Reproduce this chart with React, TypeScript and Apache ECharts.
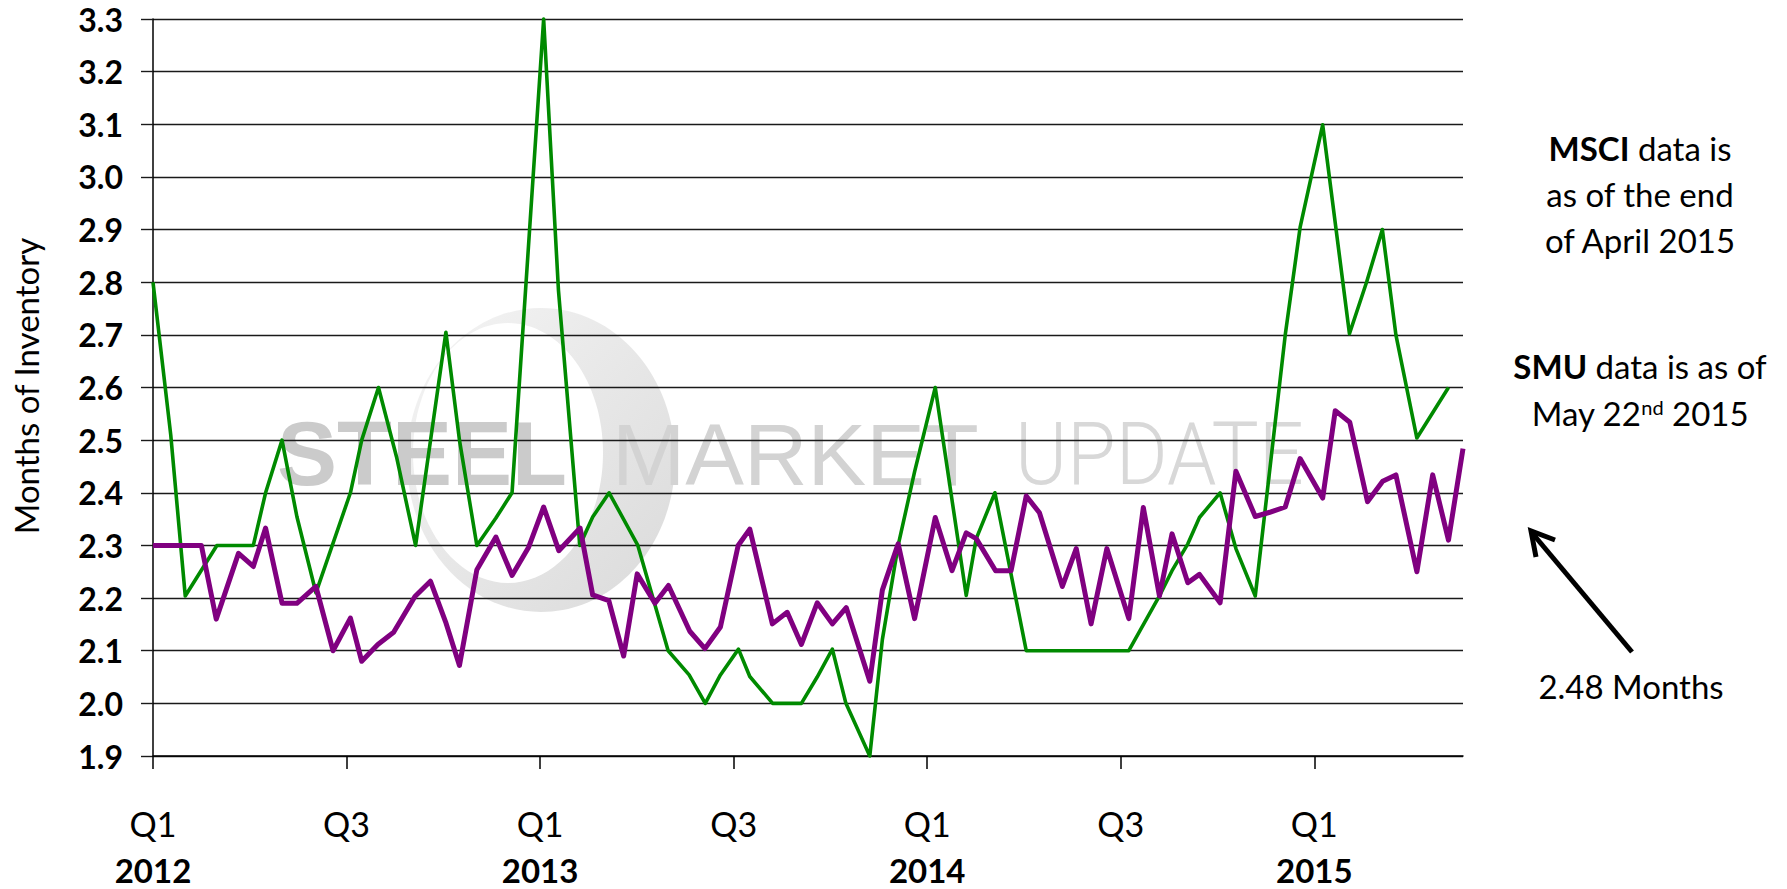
import React, { useEffect, useRef } from 'react';
import * as echarts from 'echarts';

// x position = months since 1 Jan 2012 (date axis), y = months of inventory
const smuMonths = [
  0, 0.5, 1.0, 1.5, 1.96, 2.65, 3.11, 3.49, 4.0, 4.46, 5.05, 5.58, 6.12, 6.47, 6.97, 7.46,
  8.12, 8.6, 9.07, 9.5, 10.04, 10.63, 11.13, 11.64, 12.11, 12.58, 13.24, 13.63, 14.13, 14.59,
  15.01, 15.56, 15.98, 16.64, 17.11, 17.59, 18.14, 18.5, 19.2, 19.66, 20.1, 20.59, 21.06,
  21.49, 22.22, 22.61, 23.1, 23.61, 24.25, 24.77, 25.21, 25.52, 26.12, 26.6, 27.07, 27.48,
  28.19, 28.62, 29.08, 29.57, 30.25, 30.7, 31.2, 31.59, 32.08, 32.44, 33.08, 33.57, 34.17,
  34.62, 35.1, 35.56, 36.26, 36.65, 37.1, 37.65, 38.12, 38.53, 39.18, 39.67, 40.16, 40.61,
];
const smuValues = [
  2.3, 2.3, 2.3, 2.3, 2.16, 2.285, 2.26, 2.333, 2.19, 2.19, 2.222, 2.1, 2.162, 2.08, 2.112, 2.135,
  2.203, 2.232, 2.155, 2.072, 2.254, 2.316, 2.243, 2.296, 2.373, 2.29, 2.333, 2.206, 2.195, 2.09,
  2.246, 2.19, 2.224, 2.137, 2.104, 2.145, 2.3, 2.331, 2.151, 2.173, 2.112, 2.191, 2.151,
  2.182, 2.042, 2.215, 2.303, 2.161, 2.353, 2.252, 2.324, 2.313, 2.252, 2.252, 2.394, 2.362,
  2.222, 2.294, 2.151, 2.294, 2.161, 2.372, 2.204, 2.322, 2.229, 2.245, 2.191, 2.441, 2.355,
  2.363, 2.373, 2.465, 2.39, 2.556, 2.534, 2.383, 2.422, 2.434, 2.25, 2.434, 2.31, 2.484,
];
const msciMonths = [
  0, 0.55, 1.0, 1.98, 3.11, 3.49, 4.0, 4.46, 5.05, 6.12, 6.47, 6.99, 7.55, 8.14, 9.08, 9.5,
  10.04, 10.63, 11.13, 12.11, 12.57, 13.23, 13.63, 14.14, 15.03, 15.97, 16.62, 17.12, 17.59,
  18.15, 18.5, 19.21, 20.1, 20.59, 21.06, 21.48, 22.22, 22.61, 23.1, 23.61, 24.25, 25.21,
  25.52, 26.1, 27.07, 30.25, 31.2, 31.59, 32.08, 32.44, 33.08, 33.57, 34.17, 35.1, 35.56,
  36.26, 37.09, 37.62, 38.11, 38.53, 39.18, 40.16,
];
const msciValues = [
  2.8, 2.51, 2.204, 2.3, 2.3, 2.4, 2.5, 2.355, 2.21, 2.4, 2.5, 2.6, 2.468, 2.3, 2.705, 2.5,
  2.3, 2.352, 2.4, 3.3, 2.784, 2.3, 2.354, 2.4, 2.3, 2.1, 2.054, 2.0, 2.054,
  2.103, 2.051, 2.0, 2.0, 2.05, 2.103, 2.0, 1.9, 2.121, 2.3, 2.44, 2.6, 2.205,
  2.313, 2.4, 2.1, 2.1, 2.204, 2.252, 2.303, 2.353, 2.4, 2.294, 2.204, 2.7, 2.904,
  3.099, 2.702, 2.8, 2.9, 2.7, 2.504, 2.6,
];

const quarterLabels = ['Q1', 'Q3'];
const yearLabels = ['2012', '2013', '2014', '2015'];
const yTitle = 'Months of Inventory';
const msciNote = ['{b|MSCI} data is', 'as of the end', 'of April 2015'];
const smuNote = ['{b|SMU} data is as of', 'May 22{s|nd} 2015'];
const arrowNote = '2.48 Months';
const watermarkWords = ['STEEL', 'MARKET', 'UPDATE'];

const FONT = 'Lato, "Open Sans", sans-serif';

export default function App() {
  const ref = useRef<HTMLDivElement>(null);

  useEffect(() => {
    if (!ref.current) return;
    const chart = echarts.init(ref.current, undefined, { renderer: 'svg' });

    const noteStyle = (text: string) => ({
      text,
      fill: '#000',
      fontFamily: FONT,
      fontSize: 33,
      align: 'center',
      verticalAlign: 'middle',
      textAlign: 'center',
      textVerticalAlign: 'middle',
      rich: {
        b: { fontFamily: FONT, fontSize: 33, fontWeight: 'bold', fill: '#000' },
        s: { fontFamily: FONT, fontSize: 20, lineHeight: 30, verticalAlign: 'top', fill: '#000' },
      },
    });

    const option: any = {
      animation: false,
      backgroundColor: '#ffffff',
      grid: { left: 153, right: 324, top: 19, bottom: 133, outerBoundsMode: 'none', containLabel: false },
      xAxis: {
        type: 'value',
        min: 0,
        max: 40.61,
        interval: 6,
        axisLine: { show: true, lineStyle: { color: '#000', width: 1.5 } },
        axisTick: { show: true, length: 13, lineStyle: { color: '#000', width: 1.5 } },
        splitLine: { show: false },
        axisLabel: {
          margin: 37,
          color: '#000',
          fontFamily: FONT,
          fontSize: 34,
          lineHeight: 60,
          showMaxLabel: false,
          formatter: (v: number) => {
            const m = Math.round(v);
            if (m % 12 === 0) return `${quarterLabels[0]}\n{y|${yearLabels[m / 12]}}`;
            return quarterLabels[1];
          },
          rich: {
            y: { fontFamily: FONT, fontSize: 33, fontWeight: 'bold', color: '#000', lineHeight: 33 },
          },
        },
      },
      yAxis: {
        type: 'value',
        min: 1.9,
        max: 3.3,
        interval: 0.1,
        axisLine: { show: true, lineStyle: { color: '#000', width: 1.5 } },
        axisTick: { show: true, length: 12, lineStyle: { color: '#1a1a1a', width: 1.4 } },
        splitLine: { show: true, lineStyle: { color: '#1a1a1a', width: 1.4 } },
        axisLabel: {
          margin: 30,
          color: '#000',
          fontFamily: FONT,
          fontSize: 32,
          fontWeight: 'bold',
          formatter: (v: number) => v.toFixed(1),
        },
      },
      series: [
        {
          name: 'MSCI',
          type: 'line',
          data: msciMonths.map((m, i) => [m, msciValues[i]]),
          showSymbol: false,
          symbol: 'none',
          clip: false,
          lineStyle: { color: '#008a00', width: 3.6, join: 'round' },
          z: 2,
        },
        {
          name: 'SMU',
          type: 'line',
          data: smuMonths.map((m, i) => [m, smuValues[i]]),
          showSymbol: false,
          symbol: 'none',
          clip: false,
          lineStyle: { color: '#800080', width: 5, join: 'round' },
          z: 3,
        },
      ],
      graphic: {
        elements: [
          // watermark logo
          {
            type: 'ellipse', z: -10, silent: true,
            shape: { cx: 541, cy: 460, rx: 134, ry: 152 },
            style: {
              fill: {
                type: 'linear', x: 0, y: 0, x2: 1, y2: 1,
                colorStops: [
                  { offset: 0, color: '#f5f5f5' },
                  { offset: 0.55, color: '#e6e6e6' },
                  { offset: 1, color: '#dadada' },
                ],
              },
            },
          },
          { type: 'ellipse', z: -9, silent: true, shape: { cx: 508, cy: 453, rx: 95, ry: 130 }, style: { fill: '#ffffff' } },
          {
            type: 'text', z: -8, silent: true, x: 277, y: 454,
            style: { text: watermarkWords[0], fill: '#cbcbcb', fontFamily: '"Liberation Sans", Arial, sans-serif', fontWeight: 'bold', fontSize: 90, align: 'left', verticalAlign: 'middle', textAlign: 'left', textVerticalAlign: 'middle' },
          },
          {
            type: 'text', z: -8, silent: true, x: 612, y: 454,
            style: { text: watermarkWords[1], fill: '#d3d3d3', fontFamily: '"Liberation Sans", Arial, sans-serif', fontSize: 88, align: 'left', verticalAlign: 'middle', textAlign: 'left', textVerticalAlign: 'middle' },
          },
          {
            type: 'text', z: -8, silent: true, x: 1015, y: 454, scaleX: 0.9,
            style: { text: watermarkWords[2], fill: '#d8d8d8', fontFamily: 'Roboto, sans-serif', fontWeight: 300, fontSize: 88, align: 'left', verticalAlign: 'middle', textAlign: 'left', textVerticalAlign: 'middle' },
          },
          // y axis title
          {
            type: 'text', x: 26, y: 386, rotation: Math.PI / 2,
            style: { text: yTitle, fill: '#000', fontFamily: FONT, fontSize: 33, align: 'center', verticalAlign: 'middle', textAlign: 'center', textVerticalAlign: 'middle' },
          },
          // notes
          { type: 'text', x: 1640, y: 148, style: noteStyle(msciNote[0]) },
          { type: 'text', x: 1640, y: 194, style: noteStyle(msciNote[1]) },
          { type: 'text', x: 1640, y: 240, style: noteStyle(msciNote[2]) },
          { type: 'text', x: 1640, y: 366, style: noteStyle(smuNote[0]) },
          { type: 'text', x: 1640, y: 413, style: noteStyle(smuNote[1]) },
          { type: 'text', x: 1631, y: 686, style: noteStyle(arrowNote) },
          // arrow
          { type: 'line', shape: { x1: 1632, y1: 652, x2: 1533, y2: 534 }, style: { stroke: '#000', lineWidth: 5 } },
          {
            type: 'polyline',
            shape: { points: [[1555, 540], [1531, 531], [1536, 557]] },
            style: { stroke: '#000', lineWidth: 5, fill: null, lineJoin: 'miter' },
          },
        ],
      },
    };

    chart.setOption(option);
    return () => chart.dispose();
  }, []);

  return (
    <div
      ref={ref}
      style={{ position: 'fixed', left: 0, top: 0, width: 1787, height: 889, background: '#fff' }}
    />
  );
}
